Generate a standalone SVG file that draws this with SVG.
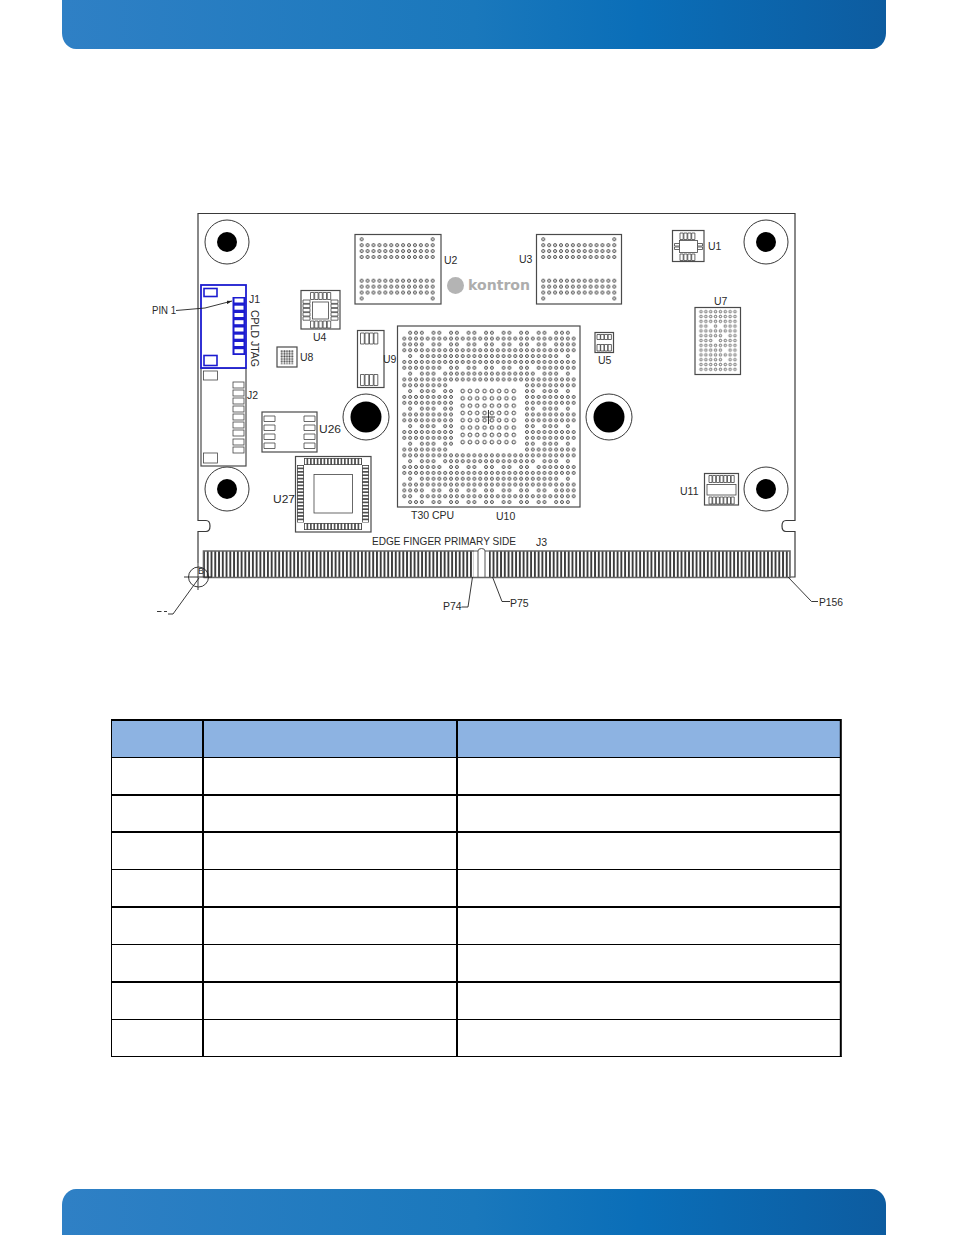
<svg xmlns="http://www.w3.org/2000/svg" width="954" height="1235" viewBox="0 0 954 1235">
<style>
text{font-family:"Liberation Sans",Arial,sans-serif;font-size:10.5px;fill:#2a2a2a}
.o{fill:#fff;stroke:#4a4a4a;stroke-width:1.2}
.b{fill:none;stroke:#3a3a3a;stroke-width:1.2}
.p{fill:#fff;stroke:#444;stroke-width:.8}
.l{fill:none;stroke:#222;stroke-width:.9}
.bl{fill:#fff;stroke:#1c1cd0;stroke-width:1.6}
.rg{fill:url(#ring)}
.t{fill:none;stroke:#000;stroke-width:2}
.t1{fill:none;stroke:#000;stroke-width:1}
</style>
<defs>
<linearGradient id="hd" x1="0" x2="1" y1="0" y2="0">
<stop offset="0" stop-color="#2f80c5"/><stop offset=".5" stop-color="#1a78bc"/><stop offset=".7" stop-color="#0a6eb8"/><stop offset="1" stop-color="#0d5ca0"/>
</linearGradient>
<pattern id="ring" patternUnits="userSpaceOnUse" width="1" height="1"><circle cx=".5" cy=".5" r=".25" fill="none" stroke="#2e2e2e" stroke-width=".15"/></pattern>
<pattern id="ringB" patternUnits="userSpaceOnUse" width="1" height="1"><circle cx=".5" cy=".5" r=".25" fill="none" stroke="#333" stroke-width=".12"/></pattern>
<pattern id="dot" patternUnits="userSpaceOnUse" width="1" height="1"><circle cx=".5" cy=".5" r=".38" fill="#444"/></pattern>
<pattern id="fing" patternUnits="userSpaceOnUse" width="3.76" height="30"><rect width="3.76" height="30" fill="#fff"/><rect x="0" width="1.9" height="30" fill="#3c3c3c"/></pattern>
<pattern id="pv" patternUnits="userSpaceOnUse" width="3.4" height="7"><rect x=".4" y=".4" width="2.6" height="6.2" fill="#fff" stroke="#444" stroke-width=".8"/></pattern>
<pattern id="ph" patternUnits="userSpaceOnUse" width="7" height="3.4"><rect x=".4" y=".4" width="6.2" height="2.6" fill="#fff" stroke="#444" stroke-width=".8"/></pattern>
<path id="rF" d="M0 0h30v1H0z"/>
<path id="rA" d="M1 0h3v1H1zM5 0h2v1H5zM8 0h2v1H8zM11 0h2v1h-2zM14 0h2v1h-2zM17 0h2v1h-2zM20 0h2v1h-2zM23 0h2v1h-2zM26 0h3v1h-3z"/>
<path id="rB" d="M0 0h4v1H0zM5 0h2v1H5zM8 0h2v1H8zM11 0h2v1h-2zM14 0h2v1h-2zM17 0h2v1h-2zM20 0h2v1h-2zM23 0h2v1h-2zM26 0h4v1h-4z"/>
<path id="rC" d="M1 0h1v1H1zM3 0h24v1H3zM28 0h1v1h-1z"/>
<path id="rD" d="M0 0h7v1H0zM8 0h2v1H8zM11 0h2v1h-2zM14 0h2v1h-2zM17 0h2v1h-2zM20 0h2v1h-2zM23 0h7v1h-7z"/>
<path id="rE" d="M1 0h1v1H1zM3 0h3v1H3zM7 0h16v1H7zM24 0h3v1h-3zM28 0h1v1h-1z"/>
<path id="rG" d="M0 0h8v1H0zM21 0h9v1h-9z"/>
<path id="rH" d="M0 0h9v1H0zM21 0h9v1h-9z"/>
<path id="rI" d="M1 0h1v1H1zM3 0h3v1H3zM7 0h2v1H7zM21 0h2v1h-2zM24 0h3v1h-3zM28 0h1v1h-1z"/>
<path id="rJ" d="M0 0h2v1H0zM3 0h27v1H3z"/>
<path id="bga" d="M0 0h1v1H0zM12 0h1v1H12zM0 1h13v3H0zM0 7h13v3H0zM0 10h1v1H0zM12 10h1v1H12z"/>
<marker id="ah" markerWidth="6" markerHeight="4" refX="6" refY="2" orient="auto"><path d="M0 0L6 2L0 4z" fill="#222"/></marker>
</defs>
<rect width="954" height="1235" fill="#fff"/>
<path id="header" d="M62 0H886V33A14 16 0 0 1 872 49H76A14 16 0 0 1 62 33z" fill="url(#hd)"/>
<path id="footer" d="M76 1189H872A14 16 0 0 1 886 1205V1235H62V1205A14 16 0 0 1 76 1189z" fill="url(#hd)"/>
<g id="board">
<path class="b" d="M198 563V531.500H206Q210 531.500 210 526Q210 520.500 206 520.500H198V213.500H795V520.500H786Q782 520.500 782 526Q782 531.500 786 531.500H795V577H788"/>
</g>
<g id="holes" fill="#000">
<g id="h1"><circle class="l" cx="227" cy="242" r="22"/><circle cx="227" cy="242" r="10"/></g>
<g id="h2"><circle class="l" cx="766" cy="242" r="22"/><circle cx="766" cy="242" r="10"/></g>
<g id="h3"><circle class="l" cx="227" cy="489" r="22"/><circle cx="227" cy="489" r="10"/></g>
<g id="h4"><circle class="l" cx="766" cy="489" r="22"/><circle cx="766" cy="489" r="10"/></g>
<g id="h5"><circle class="l" cx="366" cy="417" r="23"/><circle cx="366" cy="417" r="15.500"/></g>
<g id="h6"><circle class="l" cx="609" cy="417" r="23"/><circle cx="609" cy="417" r="15.500"/></g>
</g>
<g id="J2">
<rect class="o" x="201" y="368" width="45" height="98"/>
<rect class="p" x="203.500" y="371" width="14" height="9"/><rect class="p" x="203.500" y="453" width="14" height="10"/>
<rect class="p" x="233" y="382" width="11" height="6"/><rect class="p" x="233" y="390" width="11" height="6"/><rect class="p" x="233" y="398" width="11" height="6"/><rect class="p" x="233" y="406" width="11" height="6"/><rect class="p" x="233" y="414" width="11" height="6"/><rect class="p" x="233" y="422" width="11" height="6"/><rect class="p" x="233" y="430" width="11" height="6"/><rect class="p" x="233" y="439" width="11" height="6"/><rect class="p" x="233" y="447" width="11" height="6"/>
<text x="247" y="399">J2</text>
</g>
<g id="J1">
<rect x="201" y="285" width="45" height="83" fill="#fff" stroke="#1c1cd0" stroke-width="1.800"/>
<rect class="bl" x="204" y="288.500" width="13" height="8"/><rect class="bl" x="204" y="355.500" width="13" height="10"/>
<rect x="232.500" y="297" width="13" height="58" fill="#1c1cd0"/>
<rect x="234.500" y="298.500" width="9" height="4" fill="#fff"/><rect x="234.500" y="305.700" width="9" height="4" fill="#fff"/><rect x="234.500" y="313" width="9" height="4" fill="#fff"/><rect x="234.500" y="320.200" width="9" height="4" fill="#fff"/><rect x="234.500" y="327.500" width="9" height="4" fill="#fff"/><rect x="234.500" y="334.700" width="9" height="4" fill="#fff"/><rect x="234.500" y="342" width="9" height="4" fill="#fff"/><rect x="234.500" y="349.200" width="9" height="4" fill="#fff"/>
<text x="249" y="303">J1</text>
<text transform="translate(250.500,310) rotate(90)">CPLD JTAG</text>
</g>
<g id="U4">
<rect class="o" x="301" y="290.500" width="39" height="38.500"/>
<rect class="p" x="312.500" y="302" width="16" height="17" stroke-width="1"/>
<path class="p" d="M310.500 292.500h3.400v7h-3.400zM314.700 292.500h3.400v7h-3.400zM318.900 292.500h3.400v7h-3.400zM323.100 292.500h3.400v7h-3.400zM327.300 292.500h3.400v7h-3.400zM310.500 321h3.400v7h-3.400zM314.700 321h3.400v7h-3.400zM318.900 321h3.400v7h-3.400zM323.100 321h3.400v7h-3.400zM327.300 321h3.400v7h-3.400zM303 300h7v3.400h-7zM303 304.200h7v3.400h-7zM303 308.400h7v3.400h-7zM303 312.600h7v3.400h-7zM303 316.800h7v3.400h-7zM331 300h7v3.400h-7zM331 304.200h7v3.400h-7zM331 308.400h7v3.400h-7zM331 312.600h7v3.400h-7zM331 316.800h7v3.400h-7z"/>
<text x="313" y="341">U4</text>
</g>
<g id="U8">
<rect class="o" x="277" y="347" width="20" height="20"/>
<g transform="translate(280.500,350) scale(2.600)"><rect width="5" height="5.500" fill="url(#dot)"/></g>
<text x="300" y="361">U8</text>
</g>
<g id="U9">
<rect class="o" x="357.500" y="330.500" width="26.500" height="57"/>
<path class="p" d="M360.500 333h3.800v11h-3.800zM365 333h3.800v11h-3.800zM369.500 333h3.800v11h-3.800zM374 333h3.800v11h-3.800zM360.500 374.500h3.800v11h-3.800zM365 374.500h3.800v11h-3.800zM369.500 374.500h3.800v11h-3.800zM374 374.500h3.800v11h-3.800z"/>
<text x="383" y="363">U9</text>
</g>
<g id="U26">
<rect class="o" x="262" y="412" width="55" height="40"/>
<path class="p" d="M264 416h11v5.500h-11zM264 425h11v5.500h-11zM264 434h11v5.500h-11zM264 443h11v5.500h-11zM304 416h11v5.500h-11zM304 425h11v5.500h-11zM304 434h11v5.500h-11zM304 443h11v5.500h-11z"/>
<text x="319" y="433" textLength="22" lengthAdjust="spacingAndGlyphs">U26</text>
</g>
<g id="U27">
<rect class="o" x="295.500" y="456.500" width="75.500" height="75.500"/>
<rect class="p" x="314" y="474.500" width="38.500" height="38.500" stroke-width="1.100"/>
<g transform="translate(304,458)"><rect width="58" height="7" fill="url(#pv)"/></g>
<g transform="translate(304,523)"><rect width="58" height="7" fill="url(#pv)"/></g>
<g transform="translate(297,465)"><rect width="7" height="57.500" fill="url(#ph)"/></g>
<g transform="translate(362,465)"><rect width="7" height="57.500" fill="url(#ph)"/></g>
<text x="273" y="503" textLength="22" lengthAdjust="spacingAndGlyphs">U27</text>
</g>
<g id="U2">
<rect class="o" x="355" y="234.500" width="86" height="69.500"/>
<g transform="translate(358.700,236.300) scale(5.920)"><use href="#bga" class="rg"/></g>
<text x="444" y="264">U2</text>
</g>
<g id="U3">
<rect class="o" x="536.500" y="234.500" width="85" height="69.500"/>
<g transform="translate(540.300,236.300) scale(5.920)"><use href="#bga" class="rg"/></g>
<text x="519" y="263">U3</text>
</g>
<g id="logo">
<circle cx="455.500" cy="285.500" r="8.500" fill="#b4b4b4"/>
<text x="468" y="290" textLength="62" lengthAdjust="spacingAndGlyphs" style="font-family:'DejaVu Sans',sans-serif;font-weight:bold;font-size:13.500px;fill:#adadad">kontron</text>
</g>
<g id="U10">
<rect class="o" x="397.500" y="326" width="182.500" height="181"/>
<g transform="translate(401.400,329.800) scale(5.840)" class="rg">
<use href="#rA"/><use href="#rF" y="1"/><use href="#rB" y="2"/><use href="#rF" y="3"/><use href="#rC" y="4"/><use href="#rF" y="5"/><use href="#rD" y="6"/><use href="#rE" y="7"/><use href="#rF" y="8"/><use href="#rG" y="9"/><use href="#rI" y="10"/><use href="#rH" y="11"/><use href="#rH" y="12"/><use href="#rI" y="13"/><use href="#rH" y="14"/><use href="#rH" y="15"/><use href="#rI" y="16"/><use href="#rH" y="17"/><use href="#rH" y="18"/><use href="#rI" y="19"/><use href="#rG" y="20"/><use href="#rF" y="21"/><use href="#rE" y="22"/><use href="#rD" y="23"/><use href="#rF" y="24"/><use href="#rC" y="25"/><use href="#rF" y="26"/><use href="#rB" y="27"/><use href="#rJ" y="28"/><use href="#rA" y="29"/>
</g>
<g transform="translate(459,387.400) scale(7.300)"><rect width="8" height="8" fill="url(#ringB)"/></g>
<path class="l" d="M488.500 410V424M482 417H495"/>
<text x="411" y="519">T30 CPU</text>
<text x="496" y="520">U10</text>
</g>
<g id="U5">
<rect class="o" x="595" y="332.500" width="18.500" height="20" stroke-width="1.500"/>
<path class="p" d="M597 334.500h3.300v5h-3.300zM600.700 334.500h3.300v5h-3.300zM604.400 334.500h3.300v5h-3.300zM608.100 334.500h3.300v5h-3.300zM597 344.500h3.300v6.500h-3.300zM600.700 344.500h3.300v6.500h-3.300zM604.400 344.500h3.300v6.500h-3.300zM608.100 344.500h3.300v6.500h-3.300z"/>
<text x="598" y="364">U5</text>
</g>
<g id="U1">
<rect class="o" x="672.500" y="230.500" width="31.500" height="31"/>
<path class="p" d="M680 233h3.200v6.500h-3.200zM683.900 233h3.200v6.500h-3.200zM687.800 233h3.200v6.500h-3.200zM691.700 233h3.200v6.500h-3.200zM680 254h3.200v6.500h-3.200zM683.900 254h3.200v6.500h-3.200zM687.800 254h3.200v6.500h-3.200zM691.700 254h3.200v6.500h-3.200zM674.500 243.500h5v2.500h-5zM674.500 247h5v2.500h-5zM697.500 243.500h5v2.500h-5zM697.500 247h5v2.500h-5z"/>
<rect class="p" x="679.500" y="240.500" width="18" height="12" stroke-width="1.200"/>
<text x="708" y="250">U1</text>
</g>
<g id="U7">
<rect class="o" x="695" y="307.500" width="45.500" height="67"/>
<g transform="translate(698.600,309.300) scale(4.850,4.800)" class="rg">
<path d="M0 0h8v3H0zM0 3h2v1H0zM3 3h1v1H3zM5 3h3v1H5zM0 4h8v1H0zM0 5h5v1H0zM6 5h2v1H6zM0 6h3v1H0zM4 6h4v1H4zM0 7h8v1H0zM0 8h5v1H0zM6 8h2v1H6zM0 9h8v1H0zM0 10h5v1H0zM6 10h2v1H6zM0 11h8v2H0z"/>
</g>
<text x="714" y="305">U7</text>
</g>
<g id="U11">
<rect class="o" x="704.500" y="473.500" width="34" height="31.500"/>
<path class="p" d="M709 475.500h3v7h-3zM712.700 475.500h3v7h-3zM716.400 475.500h3v7h-3zM720.100 475.500h3v7h-3zM723.800 475.500h3v7h-3zM727.500 475.500h3v7h-3zM731.200 475.500h3v7h-3zM709 497h3v7h-3zM712.700 497h3v7h-3zM716.400 497h3v7h-3zM720.100 497h3v7h-3zM723.800 497h3v7h-3zM727.500 497h3v7h-3zM731.200 497h3v7h-3z"/>
<rect class="p" x="707" y="484.500" width="29" height="10.500" stroke-width="1"/>
<text x="680" y="495">U11</text>
</g>
<g id="J3">
<rect x="204" y="551" width="270" height="26" fill="url(#fing)"/>
<rect x="489" y="551" width="301" height="26" fill="url(#fing)"/>
<path fill="none" stroke="#666" stroke-width="1.600" d="M203.500 577.500V551H474M489 551H790V577.500H203.500"/>
<path fill="none" stroke="#555" stroke-width="1" d="M474 551H478Q478 548.500 481.500 548.500Q485 548.500 485 551H489M478 551V577M485 551V577"/>
<text x="372" y="545" textLength="144" lengthAdjust="spacingAndGlyphs">EDGE FINGER PRIMARY SIDE</text>
<text x="536" y="546">J3</text>
</g>
<g id="connectors">
<path class="l" marker-end="url(#ah)" d="M176 310.500L205 308L232 301"/>
<path class="l" d="M461.500 607H468L472.500 577"/>
<path class="l" d="M510 601.500H502L492.500 577"/>
<path class="l" d="M818 601.500H811.500L788 577"/>
<path class="l" d="M173 614H168M173 614L199 578"/>
<path class="l" d="M157 611.500H161.500M164 611.500H167"/>
<circle class="l" cx="198.500" cy="577" r="10"/>
<path class="l" d="M184 577H212M198 563V590"/>
</g>
<g id="labels">
<text x="152" y="314" textLength="24" lengthAdjust="spacingAndGlyphs">PIN 1</text>
<text x="443" y="610">P74</text>
<text x="510" y="607">P75</text>
<text x="819" y="606" textLength="24" lengthAdjust="spacingAndGlyphs">P156</text>
<text x="198" y="574" style="font-size:9px">B</text>
</g>
<g id="table">
<rect x="112" y="721" width="728" height="36.500" fill="#8db3e2"/>
<path class="t" d="M111 720H841.500M840.800 719V1057M203 720V1057M457 720V1057M111 795H841M111 832H841M111 907H841M111 982H841"/>
<path class="t1" d="M111.500 720V1057M111 757.500H841M111 869.500H841M111 944.500H841M111 1019.500H841M111 1056.500H841.500"/>
</g>
</svg>
